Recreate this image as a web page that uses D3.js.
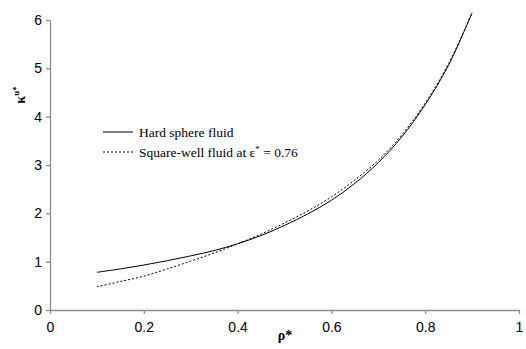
<!DOCTYPE html>
<html><head><meta charset="utf-8">
<script src="https://cdn.jsdelivr.net/npm/d3@7"></script>
<style>body{margin:0;background:#fff}
.sans{font-family:"Liberation Sans",Arial,sans-serif}
.serif{font-family:"Liberation Serif","Times New Roman",serif}
</style>
</head><body>
<script>
const rho = [0.1,0.15,0.2,0.25,0.3,0.35,0.4,0.45,0.5,0.55,0.6,0.65,0.7,0.75,0.8,0.85,0.9];
const hardSphere = [0.78,0.85,0.93,1.02,1.12,1.23,1.37,1.54,1.75,1.99,2.27,2.62,3.05,3.58,4.25,5.07,6.15];
const squareWell = [0.48,0.59,0.70,0.85,1.01,1.18,1.37,1.57,1.80,2.05,2.34,2.69,3.10,3.62,4.28,5.10,6.15];
const xTicks = [0,0.2,0.4,0.6,0.8,1];
const yTicks = [0,1,2,3,4,5,6];
const legendLabels = ["Hard sphere fluid","Square-well fluid at ε"];

const W=526,H=349;
const svg=d3.select("body").append("svg").attr("width",W).attr("height",H);
const x=d3.scaleLinear().domain([0,1]).range([50,519]);
const y=d3.scaleLinear().domain([0,6]).range([310,20]);
const axisColor="#8c8c8c";

const xa=svg.append("g").attr("transform","translate(0,310)")
  .call(d3.axisBottom(x).tickValues(xTicks).tickSize(4).tickSizeOuter(0).tickFormat(d3.format("")));
const ya=svg.append("g").attr("transform","translate(50,0)")
  .call(d3.axisLeft(y).tickValues(yTicks).tickSize(4).tickSizeOuter(0).tickFormat(d3.format("d")));
[xa,ya].forEach(g=>{
  g.attr("font-family",null).attr("font-size",null).attr("class","sans");
  g.selectAll("path,line").attr("stroke",axisColor).attr("stroke-width",1.3);
  g.selectAll("text").attr("fill","#000").attr("class","sans").style("font-size","14px");
});
xa.selectAll("text").attr("dy","1.05em");
ya.selectAll("text").attr("x",-8);

const line=d3.line().x(d=>x(d[0])).y(d=>y(d[1])).curve(d3.curveCatmullRom);
svg.append("path").datum(rho.map((r,i)=>[r,hardSphere[i]])).attr("d",line)
  .attr("fill","none").attr("stroke","#000").attr("stroke-width",1);
svg.append("path").datum(rho.map((r,i)=>[r,squareWell[i]])).attr("d",line)
  .attr("fill","none").attr("stroke","#000").attr("stroke-width",1).attr("stroke-dasharray","2,2");

// legend
const lg=svg.append("g").attr("class","serif").style("font-size","13.5px");
lg.append("line").attr("x1",103).attr("x2",133).attr("y1",132).attr("y2",132).attr("stroke","#000");
lg.append("line").attr("x1",103).attr("x2",133).attr("y1",152).attr("y2",152).attr("stroke","#000").attr("stroke-dasharray","2,2");
lg.append("text").attr("x",139).attr("y",137).text(legendLabels[0]);
const t2=lg.append("text").attr("x",139).attr("y",157);
t2.append("tspan").text(legendLabels[1]);
t2.append("tspan").attr("dy",-5).style("font-size","9px").text("*");
t2.append("tspan").attr("dy",5).text(" = 0.76");

// axis titles
svg.append("text").attr("class","serif").attr("x",285).attr("y",340).attr("text-anchor","middle")
  .style("font-size","14px").style("font-weight","bold").text("ρ*");
const yt=svg.append("text").attr("class","serif").attr("transform","translate(25,95) rotate(-90)").attr("text-anchor","middle")
  .style("font-size","14px").style("font-weight","bold");
yt.append("tspan").text("κ");
yt.append("tspan").attr("dy",-6).style("font-size","9px").text("u*");
</script>
</body></html>
